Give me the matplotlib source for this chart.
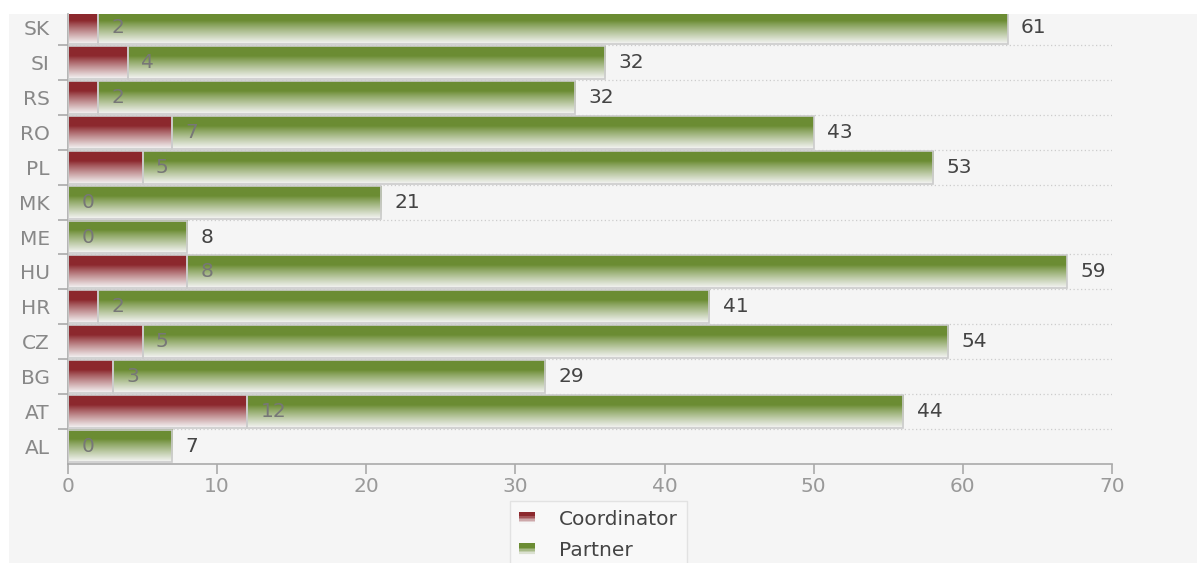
import numpy as np
import matplotlib.pyplot as plt
from matplotlib.patches import Rectangle
from matplotlib.legend_handler import HandlerPatch

# Data (bottom to top)
countries = ['AL', 'AT', 'BG', 'CZ', 'HR', 'HU', 'ME', 'MK', 'PL', 'RO', 'RS', 'SI', 'SK']
coordinator = [0, 12, 3, 5, 2, 8, 0, 0, 5, 7, 2, 4, 2]
partner = [7, 44, 29, 54, 41, 59, 8, 21, 53, 43, 32, 32, 61]

red_top = np.array([0.55, 0.16, 0.18])
green_top = np.array([0.42, 0.55, 0.20])
light = np.array([0.96, 0.96, 0.96])
fs = 14.5


def gradient(top):
    t = np.linspace(0, 1, 64)
    w = np.clip((t - 0.3) / 0.7, 0, 1) ** 0.9
    rgb = top[None, :] * (1 - w[:, None]) + light[None, :] * w[:, None]
    return rgb[:, None, :]


# legend patch drawn as stacked stripes so it looks like the gradient
class GradHandler(HandlerPatch):
    def __init__(self, top):
        super().__init__()
        self.top = top

    def create_artists(self, legend, orig_handle, xdescent, ydescent,
                       width, height, fontsize, trans):
        g = gradient(self.top)[:, 0, :]
        n = 8
        arts = []
        for k in range(n):
            c = g[int(k * (len(g) - 1) / (n - 1))]
            h = height / n
            r = Rectangle((-xdescent, -ydescent + height - (k + 1) * h), width, h,
                          facecolor=c, edgecolor='none', transform=trans)
            arts.append(r)
        return arts


fig = plt.figure(figsize=(11.97, 5.63), dpi=100)
fig.patch.set_facecolor('white')
bg = Rectangle((9 / 1197, 0), 1 - 9 / 1197, 1 - 14 / 563, transform=fig.transFigure,
               facecolor='#f5f5f5', edgecolor='none', zorder=-10)
fig.patches.append(bg)

ax = fig.add_axes([68 / 1197, 1 - 463.5 / 563, (1112 - 68) / 1197, (463.5 - 14) / 563])
ax.set_facecolor('none')

y = np.arange(len(countries))
h = 0.94
b1 = ax.barh(y, coordinator, height=h, color='none', edgecolor='#cccccc', linewidth=1.2, zorder=3)
b2 = ax.barh(y, partner, left=coordinator, height=h, color='none', edgecolor='#cccccc',
             linewidth=1.2, zorder=3)

for bars, top in ((b1, red_top), (b2, green_top)):
    img = gradient(top)
    for p in bars:
        if p.get_width() <= 0:
            continue
        x0, y0 = p.get_x(), p.get_y()
        ax.imshow(img, extent=(x0, x0 + p.get_width(), y0, y0 + p.get_height()),
                  aspect='auto', origin='upper', zorder=2, interpolation='bilinear')

for i in range(len(countries)):
    ax.text(coordinator[i] + 0.9, y[i], str(coordinator[i]), va='center', ha='left',
            fontsize=fs, color='#777777', zorder=4)
    ax.text(coordinator[i] + partner[i] + 0.9, y[i], str(partner[i]), va='center', ha='left',
            fontsize=fs, color='#444444', zorder=4)

ax.set_xlim(0, 70)
ax.set_ylim(-0.5, 12.40)
ax.set_xticks(range(0, 71, 10))
ax.set_yticks(y)
ax.set_yticklabels(countries)
ax.set_yticks(y[:-1] + 0.5, minor=True)
ax.tick_params(axis='y', which='major', length=0, pad=13, labelsize=fs, labelcolor='#888888')
ax.tick_params(axis='y', which='minor', length=7, color='#aaaaaa', width=1.2)
ax.tick_params(axis='x', length=7, color='#aaaaaa', width=1.2, labelsize=fs,
               labelcolor='#999999', pad=3)
ax.grid(axis='y', which='minor', linestyle=(0, (1, 2)), color='#cccccc', linewidth=0.9, zorder=1)
for s in ('top', 'right'):
    ax.spines[s].set_visible(False)
for s in ('left', 'bottom'):
    ax.spines[s].set_color('#aaaaaa')
    ax.spines[s].set_linewidth(1.2)

hc = Rectangle((0, 0), 1, 1)
hp = Rectangle((0, 0), 1, 1)
leg = fig.legend([hc, hp], ['Coordinator', 'Partner'],
                 handler_map={hc: GradHandler(red_top), hp: GradHandler(green_top)},
                 loc='upper left', bbox_to_anchor=(510 / 1197, 1 - 501 / 563),
                 fontsize=fs, frameon=True, fancybox=False, handlelength=0.8,
                 handleheight=0.55, labelspacing=0.6, borderpad=0.45, handletextpad=1.2,
                 borderaxespad=0)
leg.get_frame().set_edgecolor('#dddddd')
leg.get_frame().set_facecolor('#f9f9f9')
for t in leg.get_texts():
    t.set_color('#444444')

fig.savefig('out.png', dpi=100)
